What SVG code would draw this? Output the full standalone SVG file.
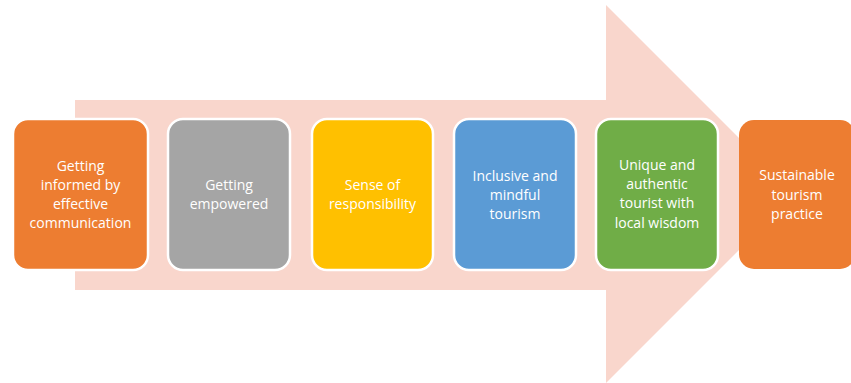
<svg xmlns="http://www.w3.org/2000/svg" width="851" height="383" viewBox="0 0 851 383">
<style>
.box{stroke:#ffffff;stroke-width:2.5}
.lbl{font-family:"Open Sans","Liberation Sans",Arial,sans-serif;font-size:14px;fill:#ffffff;text-anchor:middle}
</style>
<rect x="0" y="0" width="851" height="383" fill="#ffffff"/>
<g id="arrow">
<polygon points="75,100 606,100 606,5 795,194 606,383 606,290 75,290" fill="#F9D6CC"/>
</g>
<g id="node1">
<rect class="box" x="13" y="119" width="135" height="151" rx="15" fill="#ED7D31"/>
<text class="lbl" x="80.5" y="171">Getting</text>
<text class="lbl" x="80.5" y="190">informed by</text>
<text class="lbl" x="80.5" y="209">effective</text>
<text class="lbl" x="80.5" y="228">communication</text>
</g>
<g id="node2">
<rect class="box" x="168" y="119" width="122" height="151" rx="15" fill="#A5A5A5"/>
<text class="lbl" x="229" y="190">Getting</text>
<text class="lbl" x="229" y="209">empowered</text>
</g>
<g id="node3">
<rect class="box" x="312" y="119" width="121" height="151" rx="15" fill="#FFC000"/>
<text class="lbl" x="372.5" y="190">Sense of</text>
<text class="lbl" x="372.5" y="209">responsibility</text>
</g>
<g id="node4">
<rect class="box" x="454" y="119" width="122" height="151" rx="15" fill="#5B9BD5"/>
<text class="lbl" x="515" y="181">Inclusive and</text>
<text class="lbl" x="515" y="200">mindful</text>
<text class="lbl" x="515" y="219">tourism</text>
</g>
<g id="node5">
<rect class="box" x="596" y="119" width="122" height="151" rx="15" fill="#70AD47"/>
<text class="lbl" x="657" y="170">Unique and</text>
<text class="lbl" x="657" y="189">authentic</text>
<text class="lbl" x="657" y="208">tourist with</text>
<text class="lbl" x="657" y="228">local wisdom</text>
</g>
<g id="node6">
<rect x="739" y="120" width="116" height="149" rx="15" fill="#ED7D31"/>
<text class="lbl" x="797" y="180">Sustainable</text>
<text class="lbl" x="797" y="199.5">tourism</text>
<text class="lbl" x="797" y="219">practice</text>
</g>
<g id="connectors"></g>
</svg>
